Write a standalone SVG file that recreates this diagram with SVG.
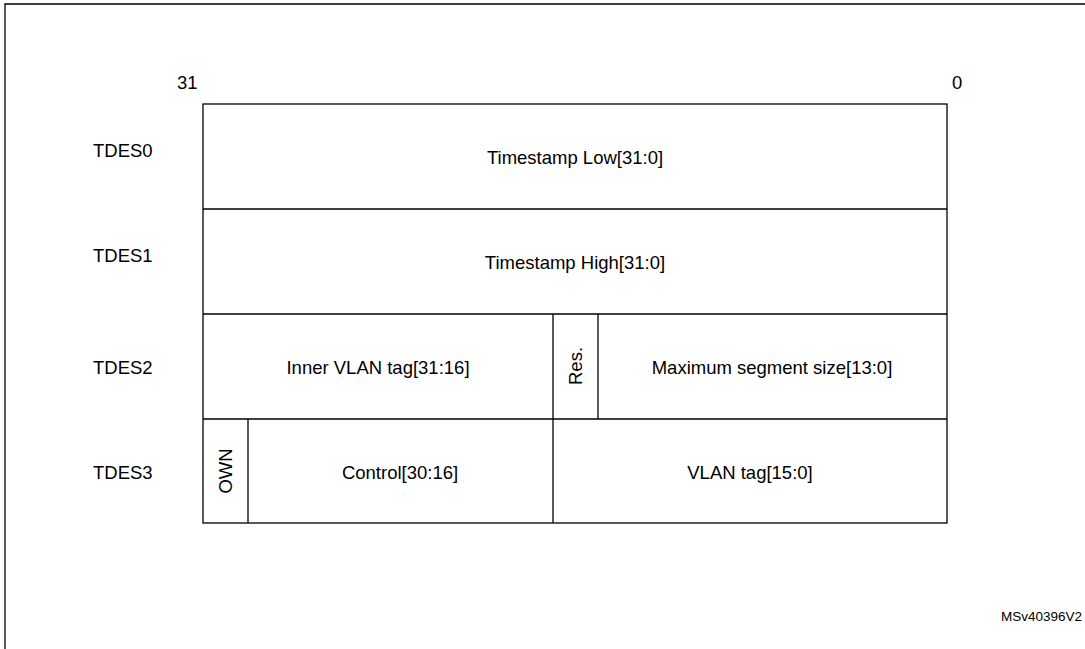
<svg xmlns="http://www.w3.org/2000/svg" width="1085" height="649" viewBox="0 0 1085 649">
<style>
text{font-family:"Liberation Sans",Arial,sans-serif;font-size:18.5px;fill:#000}
.c{text-anchor:middle}
.b{fill:none;stroke:#000;stroke-width:1.3}
</style>
<rect width="1085" height="649" fill="#fff"/>
<polyline class="b" points="5,649 5,4 1085,4" stroke-width="2"/>
<text x="177" y="89">31</text>
<text x="952" y="89">0</text>
<text x="93" y="157">TDES0</text>
<text x="93" y="262">TDES1</text>
<text x="93" y="374">TDES2</text>
<text x="93" y="479">TDES3</text>
<g id="table">
<rect class="b" x="203" y="104" width="744" height="419"/>
<line class="b" x1="203" y1="209" x2="947" y2="209"/>
<line class="b" x1="203" y1="314" x2="947" y2="314"/>
<line class="b" x1="203" y1="419" x2="947" y2="419"/>
<line class="b" x1="553" y1="314" x2="553" y2="523"/>
<line class="b" x1="598" y1="314" x2="598" y2="419"/>
<line class="b" x1="248" y1="419" x2="248" y2="523"/>
</g>
<g id="n0"><text class="c" x="575" y="164">Timestamp Low[31:0]</text></g>
<g id="n1"><text class="c" x="575" y="269">Timestamp High[31:0]</text></g>
<g id="n2"><text class="c" x="378" y="374">Inner VLAN tag[31:16]</text></g>
<g id="n3"><text class="c" transform="translate(582,366) rotate(-90)">Res.</text></g>
<g id="n4"><text class="c" x="772" y="374">Maximum segment size[13:0]</text></g>
<g id="n5"><text class="c" transform="translate(232,471) rotate(-90)">OWN</text></g>
<g id="n6"><text class="c" x="400" y="479">Control[30:16]</text></g>
<g id="n7"><text class="c" x="750" y="479">VLAN tag[15:0]</text></g>
<g id="conn"></g>
<text x="1082" y="621" style="font-size:13.5px;text-anchor:end">MSv40396V2</text>
</svg>
